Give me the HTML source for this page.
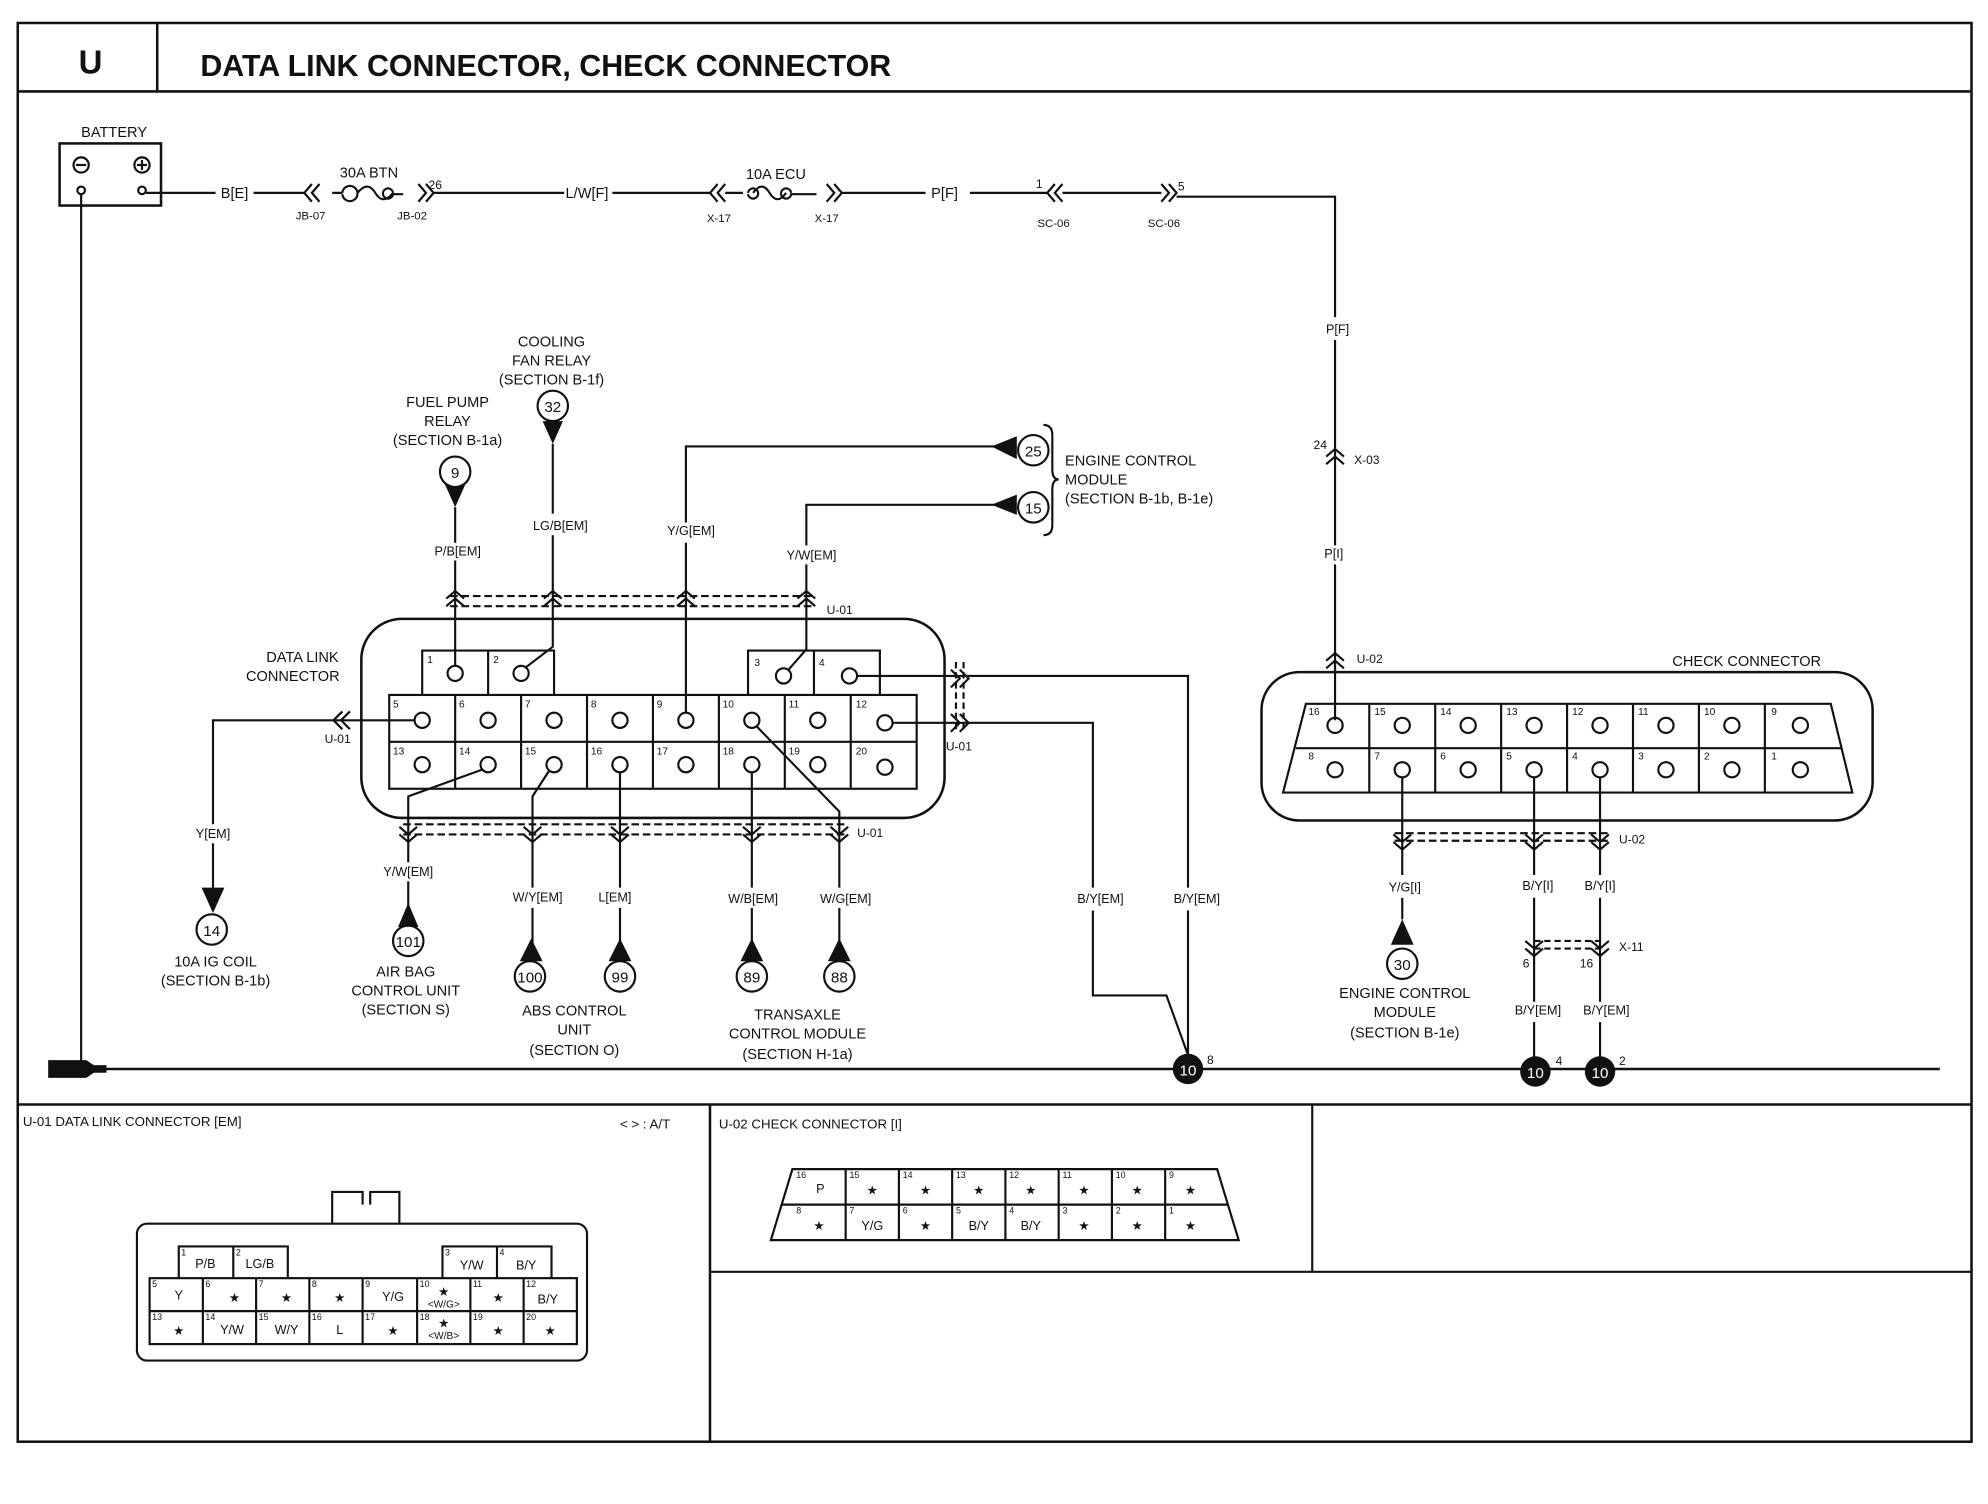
<!DOCTYPE html>
<html><head><meta charset="utf-8"><style>
html,body{margin:0;padding:0;background:#fff}
svg{display:block}
text{font-family:"Liberation Sans",sans-serif;fill:#111}
</style></head><body>
<svg width="1988" height="1504" viewBox="0 0 1568 1186" xmlns="http://www.w3.org/2000/svg">
<g fill="none" stroke="#111" stroke-width="1.7">
<rect x="14" y="18" width="1541" height="1119" stroke-width="2"/>
<line x1="14" y1="72" x2="1555" y2="72" stroke-width="2"/>
<line x1="124" y1="18" x2="124" y2="72" stroke-width="2"/>
<line x1="14" y1="871" x2="1555" y2="871" stroke-width="2"/>
<line x1="560" y1="871" x2="560" y2="1137" stroke-width="2"/>
<line x1="1035" y1="871" x2="1035" y2="1003"/>
<line x1="560" y1="1003" x2="1555" y2="1003"/>
<rect x="47" y="113" width="80" height="49" stroke-width="2"/>
<circle cx="64" cy="130" r="6"/><line x1="60" y1="130" x2="68" y2="130"/>
<circle cx="112" cy="130" r="6"/><line x1="108" y1="130" x2="116" y2="130"/><line x1="112" y1="126" x2="112" y2="134"/>
<circle cx="64" cy="150" r="3"/><circle cx="112" cy="150" r="3"/>
<line x1="64" y1="153" x2="64" y2="843"/>
<line x1="115" y1="152" x2="170" y2="152"/>
<line x1="200" y1="152" x2="240" y2="152"/>
<path d="M246 145 L240 152 L246 159 M252 145 L246 152 L252 159"/>
<path d="M262 152 h8 m0 0 a6 6 0 1 1 0 1 M282 152 q8 -10 14 0 q6 10 14 0 M310 152 a4 4 0 1 0 0 1 h8"/>
<path d="M330 145 L336 152 L330 159 M336 145 L342 152 L336 159"/>
<line x1="342" y1="152" x2="445" y2="152"/>
<line x1="483" y1="152" x2="560" y2="152"/>
<path d="M566 145 L560 152 L566 159 M572 145 L566 152 L572 159"/>
<path d="M572 152 h14 M590 152 a4 4 0 1 1 0 1 M594 152 q7 -10 13 0 q6 10 13 0 M624 152 a4 4 0 1 0 0 1 h20"/>
<path d="M652 145 L658 152 L652 159 M658 145 L664 152 L658 159"/>
<line x1="664" y1="152" x2="730" y2="152"/>
<line x1="765" y1="152" x2="826" y2="152"/>
<path d="M832 145 L826 152 L832 159 M838 145 L832 152 L838 159"/>
<line x1="838" y1="152" x2="916" y2="152"/>
<path d="M916 145 L922 152 L916 159 M922 145 L928 152 L922 159"/>
<polyline points="928,155 1053,155 1053,250"/>
<line x1="1053" y1="268" x2="1053" y2="430"/>
<path d="M1046 360 L1053 354 L1060 360 M1046 366 L1053 360 L1060 366"/>
<line x1="1053" y1="445" x2="1053" y2="568"/>
<path d="M1046 521 L1053 515 L1060 521 M1046 527 L1053 521 L1060 527"/>
<line x1="64" y1="843" x2="1530" y2="843" stroke-width="2"/>
<rect x="285" y="488" width="460" height="157" rx="32" stroke-width="2"/>
<path d="M333 548 V513 H437 V548 M385 513 V548 M590 548 V513 H694 V548 M642 513 V548"/>
<rect x="307" y="548" width="416" height="74"/>
<line x1="307" y1="585" x2="723" y2="585"/>
<path d="M359 548V622M411 548V622M463 548V622M515 548V622M567 548V622M619 548V622M671 548V622"/>
<g>
<circle cx="359" cy="531" r="6"/><circle cx="411" cy="531" r="6"/><circle cx="618" cy="533" r="6"/><circle cx="670" cy="533" r="6"/>
<circle cx="333" cy="568" r="6"/><circle cx="385" cy="568" r="6"/><circle cx="437" cy="568" r="6"/><circle cx="489" cy="568" r="6"/><circle cx="541" cy="568" r="6"/><circle cx="593" cy="568" r="6"/><circle cx="645" cy="568" r="6"/><circle cx="698" cy="570" r="6"/>
<circle cx="333" cy="603" r="6"/><circle cx="385" cy="603" r="6"/><circle cx="437" cy="603" r="6"/><circle cx="489" cy="603" r="6"/><circle cx="541" cy="603" r="6"/><circle cx="593" cy="603" r="6"/><circle cx="645" cy="603" r="6"/><circle cx="698" cy="605" r="6"/>
</g>
<line x1="359" y1="525" x2="359" y2="442"/><line x1="359" y1="428" x2="359" y2="400"/>
<polyline points="415,526 436,510 436,422"/><line x1="436" y1="405" x2="436" y2="350"/>
<polyline points="541,562 541,428"/><polyline points="541,412 541,352 790,352"/>
<polyline points="622,528 636,512 636,445"/><polyline points="636,430 636,398 790,398"/>
<path d="M355 470 H640 M355 478 H640" stroke-dasharray="6 3"/>
<path d="M352 472 L359 466 L366 472 M352 478 L359 472 L366 478 M429 472 L436 466 L443 472 M429 478 L436 472 L443 478 M534 472 L541 466 L548 472 M534 478 L541 472 L548 478 M629 472 L636 466 L643 472 M629 478 L636 472 L643 478"/>
<path d="M823 335 q7 0 7 8 V370 q0 8 5 8 q-5 0 -5 8 V414 q0 8 -7 8"/>
<polyline points="676,533 937,533 937,700"/><line x1="937" y1="718" x2="937" y2="832"/>
<polyline points="704,570 862,570 862,700"/><polyline points="862,718 862,785 920,785 937,832"/>
<path d="M750 528 L757 535 L750 542 M757 528 L764 535 L757 542 M750 563 L757 570 L750 577 M757 563 L764 570 L757 577"/>
<path d="M754 522 V578 M760 522 V578" stroke-dasharray="5 3"/>
<polyline points="327,568 168,568 168,650"/><line x1="168" y1="665" x2="168" y2="700"/>
<path d="M270 561 L263 568 L270 575 M276 561 L269 568 L276 575"/>
<polyline points="380,607 322,628 322,680"/><line x1="322" y1="695" x2="322" y2="715"/>
<polyline points="433,608 420,628 420,700"/><line x1="420" y1="716" x2="420" y2="745"/>
<polyline points="489,609 489,700"/><line x1="489" y1="716" x2="489" y2="745"/>
<polyline points="593,609 593,700"/><line x1="593" y1="716" x2="593" y2="745"/>
<polyline points="597,573 662,640 662,700"/><line x1="662" y1="716" x2="662" y2="745"/>
<path d="M318 650 H668 M318 658 H668" stroke-dasharray="6 3"/>
<path d="M315 652 L322 658 L329 652 M315 658 L322 664 L329 658 M413 652 L420 658 L427 652 M413 658 L420 664 L427 658 M482 652 L489 658 L496 652 M482 658 L489 664 L496 658 M586 652 L593 658 L600 652 M586 658 L593 664 L600 658 M655 652 L662 658 L669 652 M655 658 L662 664 L669 658"/>
<rect x="995" y="530" width="482" height="117" rx="30" stroke-width="2"/>
<path d="M1030 555 H1444 L1461 625 H1012 Z"/>
<line x1="1022" y1="590" x2="1453" y2="590"/>
<path d="M1080 555V625M1132 555V625M1184 555V625M1236 555V625M1288 555V625M1340 555V625M1392 555V625"/>
<g>
<circle cx="1053" cy="572" r="6"/><circle cx="1106" cy="572" r="6"/><circle cx="1158" cy="572" r="6"/><circle cx="1210" cy="572" r="6"/><circle cx="1262" cy="572" r="6"/><circle cx="1314" cy="572" r="6"/><circle cx="1366" cy="572" r="6"/><circle cx="1420" cy="572" r="6"/>
<circle cx="1053" cy="607" r="6"/><circle cx="1106" cy="607" r="6"/><circle cx="1158" cy="607" r="6"/><circle cx="1210" cy="607" r="6"/><circle cx="1262" cy="607" r="6"/><circle cx="1314" cy="607" r="6"/><circle cx="1366" cy="607" r="6"/><circle cx="1420" cy="607" r="6"/>
</g>
<polyline points="1106,613 1106,690"/><line x1="1106" y1="708" x2="1106" y2="725"/>
<polyline points="1210,613 1210,690"/><line x1="1210" y1="708" x2="1210" y2="790"/><line x1="1210" y1="806" x2="1210" y2="834"/>
<polyline points="1262,613 1262,690"/><line x1="1262" y1="708" x2="1262" y2="790"/><line x1="1262" y1="806" x2="1262" y2="834"/>
<path d="M1100 657 H1270 M1100 663 H1270" stroke-dasharray="6 3"/>
<path d="M1099 658 L1106 664 L1113 658 M1099 664 L1106 670 L1113 664 M1203 658 L1210 664 L1217 658 M1203 664 L1210 670 L1217 664 M1255 658 L1262 664 L1269 658 M1255 664 L1262 670 L1269 664"/>
<path d="M1210 742 H1262 M1210 748 H1262" stroke-dasharray="5 3"/>
<path d="M1203 742 L1210 748 L1217 742 M1203 748 L1210 754 L1217 748 M1255 742 L1262 748 L1269 742 M1255 748 L1262 754 L1269 748"/>
<rect x="108" y="965" width="355" height="108" rx="8"/>
<path d="M262 965 V940 H286 V950 M292 950 V940 H315 V965"/>
<path d="M141 1008 V983 H227 V1008 M184 983 V1008 M349 1008 V983 H435 V1008 M392 983 V1008"/>
<rect x="118" y="1008" width="337" height="52"/>
<line x1="118" y1="1034" x2="455" y2="1034"/>
<path d="M160 1008V1060M202 1008V1060M244 1008V1060M286 1008V1060M329 1008V1060M371 1008V1060M413 1008V1060"/>
<path d="M625 922 H960 L977 978 H608 Z"/>
<line x1="617" y1="950" x2="968" y2="950"/>
<path d="M667 922V978M709 922V978M751 922V978M793 922V978M835 922V978M877 922V978M919 922V978"/>
</g>
<g fill="#111">
<polygon points="351,382 367,382 359,400"/><circle cx="359" cy="372" r="12" fill="#fff" stroke="#111" stroke-width="1.7"/>
<polygon points="428,332 444,332 436,350"/><circle cx="436" cy="320" r="12" fill="#fff" stroke="#111" stroke-width="1.7"/>
<polygon points="782,352 802,344 802,362"/><circle cx="815" cy="355" r="12" fill="#fff" stroke="#111" stroke-width="1.7"/>
<polygon points="782,398 802,390 802,406"/><circle cx="815" cy="400" r="12" fill="#fff" stroke="#111" stroke-width="1.7"/>
<polygon points="159,700 177,700 168,720"/><circle cx="167" cy="733" r="12" fill="#fff" stroke="#111" stroke-width="1.7"/>
<polygon points="314,731 330,731 322,712"/><circle cx="322" cy="742" r="12" fill="#fff" stroke="#111" stroke-width="1.7"/>
<polygon points="410,758 428,758 419,740"/><circle cx="418" cy="770" r="12" fill="#fff" stroke="#111" stroke-width="1.7"/>
<polygon points="480,758 498,758 489,740"/><circle cx="489" cy="770" r="12" fill="#fff" stroke="#111" stroke-width="1.7"/>
<polygon points="584,758 602,758 593,740"/><circle cx="593" cy="770" r="12" fill="#fff" stroke="#111" stroke-width="1.7"/>
<polygon points="653,758 671,758 662,740"/><circle cx="662" cy="770" r="12" fill="#fff" stroke="#111" stroke-width="1.7"/>
<polygon points="1097,745 1115,745 1106,725"/><circle cx="1106" cy="760" r="12" fill="#fff" stroke="#111" stroke-width="1.7"/>
<circle cx="937" cy="843" r="12"/><circle cx="1211" cy="845" r="12"/><circle cx="1262" cy="845" r="12"/>
<path d="M38 836 h30 l6 4 h10 v6 h-10 l-6 4 h-30 z"/>
</g>
<g font-size="12" text-anchor="middle">
<text x="359" y="377">9</text><text x="436" y="325">32</text><text x="815" y="360">25</text><text x="815" y="405">15</text>
<text x="167" y="738">14</text><text x="322" y="747">101</text><text x="418" y="775">100</text><text x="489" y="775">99</text><text x="593" y="775">89</text><text x="662" y="775">88</text><text x="1106" y="765">30</text>
<text x="937" y="848" style="fill:#fff">10</text><text x="1211" y="850" style="fill:#fff">10</text><text x="1262" y="850" style="fill:#fff">10</text>
</g>
<text x="62" y="58" font-size="26" font-weight="bold">U</text>
<text x="158" y="60" font-size="24" font-weight="bold">DATA LINK CONNECTOR, CHECK CONNECTOR</text>
<g font-size="11.5" text-anchor="middle">
<text x="90" y="108">BATTERY</text>
<text x="185" y="156">B[E]</text><text x="291" y="140">30A BTN</text><text x="245" y="173" font-size="9">JB-07</text><text x="325" y="173" font-size="9">JB-02</text>
<text x="463" y="156">L/W[F]</text><text x="612" y="141">10A ECU</text><text x="567" y="175" font-size="9">X-17</text><text x="652" y="175" font-size="9">X-17</text>
<text x="745" y="156">P[F]</text><text x="831" y="179" font-size="9">SC-06</text><text x="918" y="179" font-size="9">SC-06</text>
<text x="1055" y="263" font-size="10">P[F]</text><text x="1052" y="440" font-size="10">P[I]</text>
<text x="435" y="273">COOLING</text><text x="435" y="288">FAN RELAY</text><text x="435" y="303">(SECTION B-1f)</text>
<text x="353" y="321">FUEL PUMP</text><text x="353" y="336">RELAY</text><text x="353" y="351">(SECTION B-1a)</text>
<text x="361" y="438" font-size="10">P/B[EM]</text><text x="442" y="418" font-size="10">LG/B[EM]</text><text x="545" y="422" font-size="10">Y/G[EM]</text><text x="640" y="441" font-size="10">Y/W[EM]</text>
<text x="168" y="661" font-size="10">Y[EM]</text><text x="322" y="691" font-size="10">Y/W[EM]</text><text x="424" y="711" font-size="10">W/Y[EM]</text><text x="485" y="711" font-size="10">L[EM]</text><text x="594" y="712" font-size="10">W/B[EM]</text><text x="667" y="712" font-size="10">W/G[EM]</text>
<text x="868" y="712" font-size="10">B/Y[EM]</text><text x="944" y="712" font-size="10">B/Y[EM]</text>
<text x="1108" y="703" font-size="10">Y/G[I]</text><text x="1213" y="702" font-size="10">B/Y[I]</text><text x="1262" y="702" font-size="10">B/Y[I]</text>
<text x="1213" y="800" font-size="10">B/Y[EM]</text><text x="1267" y="800" font-size="10">B/Y[EM]</text>
<text x="170" y="762">10A IG COIL</text><text x="170" y="777">(SECTION B-1b)</text>
<text x="320" y="770">AIR BAG</text><text x="320" y="785">CONTROL UNIT</text><text x="320" y="800">(SECTION S)</text>
<text x="453" y="801">ABS CONTROL</text><text x="453" y="816">UNIT</text><text x="453" y="832">(SECTION O)</text>
<text x="629" y="804">TRANSAXLE</text><text x="629" y="819">CONTROL MODULE</text><text x="629" y="835">(SECTION H-1a)</text>
<text x="1108" y="787">ENGINE CONTROL</text><text x="1108" y="802">MODULE</text><text x="1108" y="818">(SECTION B-1e)</text>
</g>
<g font-size="11.5">
<text x="840" y="367">ENGINE CONTROL</text><text x="840" y="382">MODULE</text><text x="840" y="397">(SECTION B-1b, B-1e)</text>
<text x="210" y="522">DATA LINK</text><text x="194" y="537">CONNECTOR</text>
<text x="1319" y="525">CHECK CONNECTOR</text>
<text x="18" y="888" font-size="10.5">U-01 DATA LINK CONNECTOR [EM]</text>
<text x="489" y="890" font-size="10.5">&lt;   &gt; : A/T</text>
<text x="567" y="890" font-size="10.5">U-02 CHECK CONNECTOR [I]</text>
</g>
<g font-size="9.5">
<text x="338" y="149">26</text><text x="817" y="148">1</text><text x="929" y="150">5</text>
<text x="1036" y="354">24</text><text x="1068" y="366">X-03</text><text x="1070" y="523">U-02</text>
<text x="652" y="484">U-01</text><text x="746" y="592">U-01</text><text x="256" y="586">U-01</text><text x="676" y="660">U-01</text>
<text x="1277" y="665">U-02</text><text x="1277" y="750">X-11</text><text x="1201" y="763">6</text><text x="1246" y="763">16</text>
<text x="952" y="839">8</text><text x="1227" y="840">4</text><text x="1277" y="840">2</text>
</g>
<g font-size="8">
<text x="337" y="523">1</text><text x="389" y="523">2</text><text x="595" y="525">3</text><text x="646" y="525">4</text>
<text x="310" y="558">5</text><text x="362" y="558">6</text><text x="414" y="558">7</text><text x="466" y="558">8</text><text x="518" y="558">9</text><text x="570" y="558">10</text><text x="622" y="558">11</text><text x="675" y="558">12</text>
<text x="310" y="595">13</text><text x="362" y="595">14</text><text x="414" y="595">15</text><text x="466" y="595">16</text><text x="518" y="595">17</text><text x="570" y="595">18</text><text x="622" y="595">19</text><text x="675" y="595">20</text>
<text x="1032" y="564">16</text><text x="1084" y="564">15</text><text x="1136" y="564">14</text><text x="1188" y="564">13</text><text x="1240" y="564">12</text><text x="1292" y="564">11</text><text x="1344" y="564">10</text><text x="1397" y="564">9</text>
<text x="1032" y="599">8</text><text x="1084" y="599">7</text><text x="1136" y="599">6</text><text x="1188" y="599">5</text><text x="1240" y="599">4</text><text x="1292" y="599">3</text><text x="1344" y="599">2</text><text x="1397" y="599">1</text>
</g>
<g font-size="10" text-anchor="middle">
<text x="162" y="1000">P/B</text><text x="205" y="1000">LG/B</text><text x="372" y="1001">Y/W</text><text x="415" y="1001">B/Y</text>
<text x="141" y="1025">Y</text><text x="185" y="1027">★</text><text x="226" y="1027">★</text><text x="268" y="1027">★</text><text x="310" y="1026">Y/G</text><text x="350" y="1022">★</text><text x="350" y="1031" font-size="8">&lt;W/G&gt;</text><text x="393" y="1027">★</text><text x="432" y="1028">B/Y</text>
<text x="141" y="1053">★</text><text x="183" y="1052">Y/W</text><text x="226" y="1052">W/Y</text><text x="268" y="1052">L</text><text x="310" y="1053">★</text><text x="350" y="1047">★</text><text x="350" y="1056" font-size="8">&lt;W/B&gt;</text><text x="393" y="1053">★</text><text x="434" y="1053">★</text>
<text x="647" y="941">P</text><text x="688" y="942">★</text><text x="730" y="942">★</text><text x="772" y="942">★</text><text x="813" y="942">★</text><text x="855" y="942">★</text><text x="897" y="942">★</text><text x="939" y="942">★</text>
<text x="646" y="970">★</text><text x="688" y="970">Y/G</text><text x="730" y="970">★</text><text x="772" y="970">B/Y</text><text x="813" y="970">B/Y</text><text x="855" y="970">★</text><text x="897" y="970">★</text><text x="939" y="970">★</text>
</g>
<g font-size="7">
<text x="143" y="990">1</text><text x="186" y="990">2</text><text x="351" y="990">3</text><text x="394" y="990">4</text>
<text x="120" y="1015">5</text><text x="162" y="1015">6</text><text x="204" y="1015">7</text><text x="246" y="1015">8</text><text x="288" y="1015">9</text><text x="331" y="1015">10</text><text x="373" y="1015">11</text><text x="415" y="1015">12</text>
<text x="120" y="1041">13</text><text x="162" y="1041">14</text><text x="204" y="1041">15</text><text x="246" y="1041">16</text><text x="288" y="1041">17</text><text x="331" y="1041">18</text><text x="373" y="1041">19</text><text x="415" y="1041">20</text>
<text x="628" y="929">16</text><text x="670" y="929">15</text><text x="712" y="929">14</text><text x="754" y="929">13</text><text x="796" y="929">12</text><text x="838" y="929">11</text><text x="880" y="929">10</text><text x="922" y="929">9</text>
<text x="628" y="957">8</text><text x="670" y="957">7</text><text x="712" y="957">6</text><text x="754" y="957">5</text><text x="796" y="957">4</text><text x="838" y="957">3</text><text x="880" y="957">2</text><text x="922" y="957">1</text>
</g>
</svg>
</body></html>
